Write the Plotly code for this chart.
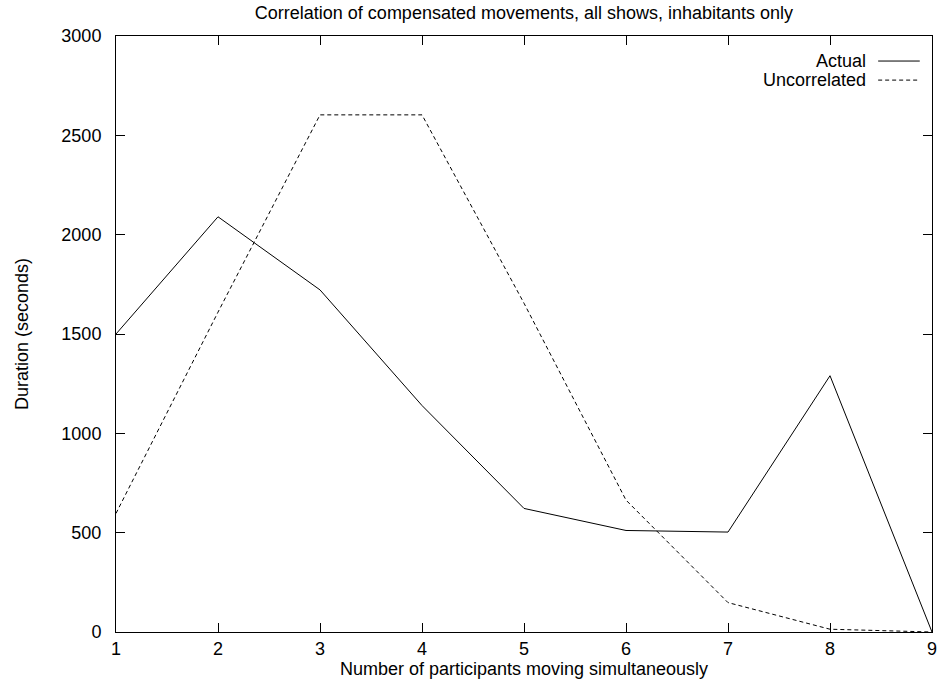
import plotly.graph_objects as go

participants = [1, 2, 3, 4, 5, 6, 7, 8, 9]
actual = [1500, 2090, 1722, 1140, 622, 511, 503, 1290, 0]
uncorrelated = [597, 1610, 2603, 2603, 1655, 664, 148, 14, 0]

x_ticks = [1, 2, 3, 4, 5, 6, 7, 8, 9]
y_ticks = [0, 500, 1000, 1500, 2000, 2500, 3000]

title_text = "Correlation of compensated movements, all shows, inhabitants only"
x_title = "Number of participants moving simultaneously"
y_title = "Duration (seconds)"
series_names = ["Actual", "Uncorrelated"]

FONT = "Liberation Sans, Arial, Helvetica, sans-serif"
FS = 18

fig = go.Figure()
fig.add_trace(go.Scatter(x=participants, y=actual, mode="lines", name=series_names[0],
                         line=dict(color="black", width=1), showlegend=False))
fig.add_trace(go.Scatter(x=participants, y=uncorrelated, mode="lines", name=series_names[1],
                         line=dict(color="black", width=1, dash="4px,3px"), showlegend=False))

axis_common = dict(showgrid=False, zeroline=False, showline=True, linecolor="black",
                   linewidth=1, mirror="ticks", ticks="inside", ticklen=9,
                   tickcolor="black", tickwidth=1,
                   tickfont=dict(family=FONT, size=FS, color="black"))

fig.update_xaxes(range=[1, 9], tickvals=x_ticks, ticktext=[str(v) for v in x_ticks],
                 title=dict(text=x_title, font=dict(family=FONT, size=FS, color="black"), standoff=0),
                 **axis_common)
fig.update_yaxes(range=[0, 3000], tickvals=y_ticks, ticktext=[str(v) for v in y_ticks],
                 ticklabelstandoff=10,
                 title=dict(text=y_title, font=dict(family=FONT, size=FS, color="black"), standoff=28),
                 **axis_common)

# legend (gnuplot style: text then line sample)
legend_y = [0.958, 0.926]
dashes = ["solid", "4px,3px"]
for name, yy, dsh in zip(series_names, legend_y, dashes):
    fig.add_annotation(x=0.9216, y=yy, xref="paper", yref="paper", text=name, showarrow=False,
                       xanchor="right", yanchor="middle",
                       font=dict(family=FONT, size=FS, color="black"))
    fig.add_shape(type="line", xref="paper", yref="paper", x0=0.934, x1=0.985, y0=yy, y1=yy,
                  line=dict(color="black", width=1, dash=dsh))

fig.update_layout(
    width=939, height=682,
    margin=dict(l=116, r=7, t=36, b=50, autoexpand=False),
    paper_bgcolor="white", plot_bgcolor="white",
    title=dict(text=title_text, x=0.558, xanchor="center", y=0.981, yanchor="middle",
               font=dict(family=FONT, size=FS, color="black")),
    font=dict(family=FONT, color="black"),
)

fig.write_html("out.html")
